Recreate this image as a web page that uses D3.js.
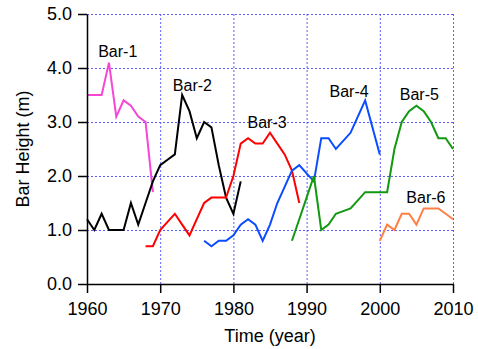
<!DOCTYPE html>
<html>
<head>
<meta charset="utf-8">
<script src="https://cdn.jsdelivr.net/npm/d3@7"></script>
<style>
  html, body { margin: 0; padding: 0; background: #fff; }
  svg { display: block; font-family: "Liberation Sans", Arial, sans-serif; }
</style>
</head>
<body>
<svg id="chart" width="478" height="349"></svg>
<script>
// Bar height time series (m), one array per bar
const bar1Years = [1960, 1961, 1962, 1963, 1964, 1965, 1966, 1967, 1968, 1969];
const bar1Values = [3.5, 3.5, 3.5, 4.1, 3.1, 3.4, 3.3, 3.1, 3.0, 1.7];

const bar2Years = d3.range(1960, 1982);
const bar2Values = [1.2, 1.0, 1.3, 1.0, 1.0, 1.0, 1.5, 1.1, 1.5, 1.9, 2.2, 2.3, 2.4, 3.5, 3.2, 2.7, 3.0, 2.9, 2.2, 1.6, 1.3, 1.9];

const bar3Years = d3.range(1968, 1990);
const bar3Values = [0.7, 0.7, 1.0, 1.15, 1.3, 1.1, 0.9, 1.2, 1.5, 1.6, 1.6, 1.6, 2.0, 2.6, 2.7, 2.6, 2.6, 2.8, 2.6, 2.4, 2.1, 1.5];

const bar4Years = d3.range(1976, 2001);
const bar4Values = [0.8, 0.7, 0.8, 0.8, 0.9, 1.1, 1.2, 1.1, 0.8, 1.1, 1.5, 1.8, 2.1, 2.2, 2.05, 1.9, 2.7, 2.7, 2.5, 2.65, 2.8, 3.1, 3.4, 2.9, 2.4];

const bar5Years = d3.range(1988, 2011);
const bar5Values = [0.8, 1.2, 1.6, 2.0, 1.0, 1.1, 1.3, 1.35, 1.4, 1.55, 1.7, 1.7, 1.7, 1.7, 2.5, 3.0, 3.2, 3.3, 3.2, 3.0, 2.7, 2.7, 2.5];

const bar6Years = d3.range(2000, 2011);
const bar6Values = [0.8, 1.1, 1.0, 1.3, 1.3, 1.1, 1.4, 1.4, 1.4, 1.3, 1.2];

const seriesNames = ["Bar-1", "Bar-2", "Bar-3", "Bar-4", "Bar-5", "Bar-6"];
const seriesColors = ["#f845d6", "#000000", "#ff0000", "#0a4cff", "#119911", "#ff8047"];

// where each series name is written, in (year, height) units
const labelYears = [1964.2, 1974.4, 1984.6, 1995.8, 2005.4, 2006.3];
const labelHeights = [4.2, 3.57, 2.88, 3.46, 3.40, 1.5];

const xTicks = [1960, 1970, 1980, 1990, 2000, 2010];
const yTicks = [0, 1, 2, 3, 4, 5];

const series = [
  [bar1Years, bar1Values], [bar2Years, bar2Values], [bar3Years, bar3Values],
  [bar4Years, bar4Values], [bar5Years, bar5Values], [bar6Years, bar6Values]
].map(([yrs, vals], i) => ({
  name: seriesNames[i],
  color: seriesColors[i],
  points: yrs.map((yr, j) => ({ year: yr, value: vals[j] }))
}));

const svg = d3.select("#chart");
const margin = { top: 14, right: 25, bottom: 65, left: 87 };
const width = 478 - margin.left - margin.right;
const height = 349 - margin.top - margin.bottom;

const x = d3.scaleLinear().domain([1960, 2010]).range([0, width]);
const y = d3.scaleLinear().domain([0, 5]).range([height, 0]);

const g = svg.append("g").attr("transform", `translate(${margin.left},${margin.top})`);

// dotted grid
const gridColor = "#5c5cff";
g.append("g").selectAll("line").data(yTicks.filter(t => t > 0)).join("line")
  .attr("x1", 0).attr("x2", width)
  .attr("y1", d => y(d) + 0.5).attr("y2", d => y(d) + 0.5)
  .attr("stroke", gridColor).attr("stroke-width", 1).attr("stroke-dasharray", "2,2");
g.append("g").selectAll("line").data(xTicks.filter(t => t > 1960)).join("line")
  .attr("x1", d => x(d) + 0.5).attr("x2", d => x(d) + 0.5)
  .attr("y1", 0).attr("y2", height)
  .attr("stroke", gridColor).attr("stroke-width", 1).attr("stroke-dasharray", "2,2");

// series lines
const line = d3.line().x(d => x(d.year)).y(d => y(d.value));
g.append("g").selectAll("path").data(series).join("path")
  .attr("d", d => line(d.points))
  .attr("fill", "none")
  .attr("stroke", d => d.color)
  .attr("stroke-width", 2)
  .attr("stroke-linejoin", "miter");

// axes
const xAxis = g.append("g").attr("transform", `translate(0,${height})`)
  .call(d3.axisBottom(x).tickValues(xTicks).tickFormat(d3.format("d")).tickSize(9).tickPadding(9).tickSizeOuter(0));
const yAxis = g.append("g")
  .call(d3.axisLeft(y).tickValues(yTicks).tickFormat(d3.format(".1f")).tickSize(9).tickPadding(6).tickSizeOuter(0));

[xAxis, yAxis].forEach(ax => {
  ax.select(".domain").attr("stroke", "#000").attr("stroke-width", 1.5);
  ax.selectAll(".tick line").attr("stroke", "#000").attr("stroke-width", 1.5);
  ax.selectAll(".tick text").attr("fill", "#000")
    .style("font-family", "'Liberation Sans', Arial, sans-serif").style("font-size", "18px");
});

// series name labels
g.append("g").selectAll("text").data(series).join("text")
  .attr("x", (d, i) => x(labelYears[i]))
  .attr("y", (d, i) => y(labelHeights[i]))
  .attr("text-anchor", "middle")
  .style("font-size", "16px")
  .attr("fill", "#000")
  .text(d => d.name);

// axis titles
svg.append("text")
  .attr("x", margin.left + width / 2).attr("y", 342)
  .attr("text-anchor", "middle").style("font-size", "18px")
  .text("Time (year)");
svg.append("text")
  .attr("transform", `translate(29,${margin.top + height / 2}) rotate(-90)`)
  .attr("text-anchor", "middle").style("font-size", "18px")
  .text("Bar Height (m)");
</script>
</body>
</html>
